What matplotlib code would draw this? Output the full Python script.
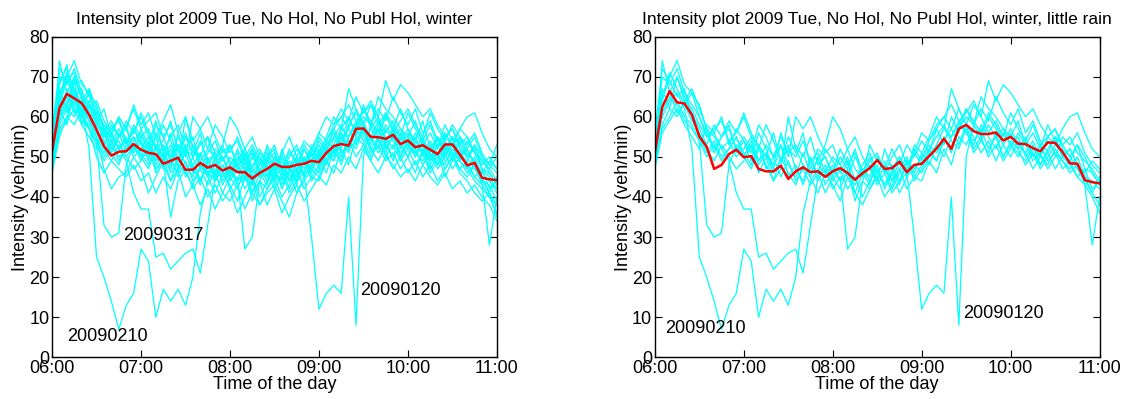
import matplotlib
matplotlib.use("Agg")
import matplotlib.pyplot as plt

plt.rcParams['font.family'] = ['Liberation Sans', 'DejaVu Sans']

# time axis: minutes after 06:00, 5-minute samples
minutes = list(range(0, 301, 5))
tick_minutes = [0, 60, 120, 180, 240, 300]
tick_labels = ["06:00", "07:00", "08:00", "09:00", "10:00", "11:00"]
y_ticks = [0, 10, 20, 30, 40, 50, 60, 70, 80]

# individual days (veh/min), 06:00 .. 11:00
d20090106 = [52, 70, 68, 72, 66, 63, 60, 55, 57, 59, 54, 56,
             60, 55, 53, 50, 56, 49, 52, 50, 54, 49, 51, 46,
             50, 48, 52, 47, 45, 49, 51, 46, 50, 53, 48, 51,
             56, 54, 58, 60, 57, 62, 58, 63, 60, 56, 59, 55,
             61, 57, 54, 58, 53, 55, 57, 52, 50, 53, 47, 46,
             43]
d20090113 = [47, 58, 62, 60, 64, 67, 62, 57, 52, 55, 58, 51,
             54, 49, 56, 52, 47, 53, 45, 48, 43, 50, 44, 47,
             42, 45, 27, 30, 44, 42, 46, 49, 44, 47, 50, 45,
             48, 52, 49, 55, 51, 57, 60, 58, 62, 59, 65, 61,
             58, 62, 56, 59, 54, 51, 55, 50, 52, 48, 45, 41,
             38]
d20090120 = [50, 61, 65, 63, 59, 57, 54, 50, 53, 49, 52, 55,
             51, 48, 53, 47, 50, 45, 49, 44, 47, 43, 46, 41,
             45, 42, 47, 39, 44, 48, 43, 46, 41, 44, 46, 30,
             12, 16, 18, 16, 40, 8, 50, 58, 55, 60, 57, 53,
             56, 52, 55, 50, 53, 49, 51, 47, 49, 45, 43, 40,
             36]
d20090127 = [55, 66, 70, 68, 69, 65, 61, 58, 54, 57, 53, 58,
             55, 57, 52, 54, 59, 51, 55, 53, 49, 52, 50, 53,
             48, 51, 46, 50, 52, 48, 45, 50, 47, 52, 49, 51,
             47, 53, 56, 52, 58, 61, 57, 55, 59, 54, 57, 52,
             55, 51, 54, 49, 52, 56, 53, 55, 50, 52, 49, 47,
             50]
d20090203 = [48, 74, 66, 61, 63, 59, 56, 52, 49, 53, 50, 47,
             49, 53, 46, 50, 44, 47, 60, 52, 48, 45, 50, 43,
             47, 44, 49, 41, 46, 50, 44, 52, 47, 43, 49, 46,
             51, 48, 53, 50, 55, 58, 62, 59, 56, 61, 58, 54,
             57, 53, 51, 54, 50, 48, 52, 49, 46, 48, 43, 28,
             40]
d20090210 = [50, 60, 64, 66, 62, 52, 25, 20, 14, 7, 13, 16,
             27, 24, 10, 17, 14, 17, 13, 20, 36, 44, 47, 45,
             48, 44, 46, 43, 47, 45, 50, 46, 48, 44, 49, 47,
             50, 53, 51, 55, 52, 58, 56, 54, 57, 52, 55, 50,
             53, 51, 49, 52, 50, 54, 51, 49, 47, 50, 45, 44,
             42]
d20090217 = [46, 59, 63, 67, 61, 64, 58, 56, 59, 55, 57, 62,
             57, 59, 61, 55, 58, 52, 56, 50, 53, 55, 51, 49,
             52, 54, 49, 52, 48, 50, 53, 47, 51, 49, 45, 48,
             50, 46, 52, 55, 53, 56, 59, 54, 57, 52, 55, 53,
             50, 54, 52, 49, 55, 51, 53, 57, 55, 51, 48, 50,
             47]
d20090224 = [53, 64, 70, 74, 68, 66, 63, 57, 55, 52, 54, 50,
             52, 55, 49, 51, 48, 56, 50, 60, 57, 60, 55, 51,
             53, 48, 45, 50, 47, 44, 48, 42, 46, 50, 47, 52,
             49, 54, 57, 60, 63, 59, 61, 64, 60, 69, 64, 68,
             66, 63, 60, 62, 58, 55, 57, 53, 55, 51, 49, 47,
             44]
d20090303 = [48, 63, 66, 70, 64, 62, 58, 55, 56, 52, 49, 41,
             37, 37, 25, 26, 22, 24, 26, 27, 21, 33, 45, 48,
             44, 47, 42, 45, 40, 44, 47, 43, 46, 41, 45, 48,
             46, 50, 53, 57, 55, 59, 56, 53, 58, 55, 52, 56,
             53, 50, 54, 51, 48, 52, 55, 53, 50, 47, 44, 41,
             45]
d20090310 = [49, 57, 60, 64, 60, 58, 54, 33, 30, 31, 48, 53,
             50, 47, 52, 48, 44, 50, 46, 43, 48, 45, 41, 46,
             43, 39, 45, 41, 38, 42, 45, 40, 43, 47, 42, 45,
             44, 49, 46, 52, 48, 55, 53, 57, 54, 51, 56, 50,
             54, 52, 48, 51, 47, 50, 53, 51, 49, 53, 50, 46,
             43]
d20090317 = [51, 60, 67, 64, 62, 59, 55, 47, 42, 45, 46, 50,
             47, 41, 45, 49, 35, 44, 47, 42, 45, 40, 43, 39,
             42, 36, 40, 44, 38, 41, 43, 39, 35, 41, 44, 47,
             45, 49, 52, 48, 54, 50, 53, 49, 55, 51, 47, 50,
             46, 49, 45, 48, 44, 47, 50, 46, 44, 41, 39, 41,
             35]
d20091201 = [54, 67, 62, 70, 65, 61, 57, 53, 58, 55, 59, 56,
             61, 56, 52, 58, 54, 49, 55, 51, 56, 47, 52, 50,
             46, 52, 48, 51, 45, 53, 49, 47, 52, 48, 53, 50,
             54, 51, 57, 53, 60, 56, 62, 58, 65, 62, 60, 57,
             55, 59, 53, 56, 52, 58, 54, 50, 52, 48, 46, 49,
             47]
d20091208 = [56, 72, 69, 65, 67, 60, 55, 51, 54, 50, 52, 55,
             50, 54, 48, 51, 46, 49, 53, 47, 44, 49, 46, 52,
             49, 46, 50, 44, 48, 51, 46, 43, 47, 50, 45, 53,
             51, 55, 60, 57, 67, 62, 58, 52, 55, 50, 53, 49,
             52, 56, 53, 49, 51, 47, 50, 55, 53, 56, 51, 48,
             46]
d20091215 = [50, 64, 61, 66, 58, 63, 59, 54, 51, 48, 53, 57,
             53, 50, 55, 49, 52, 47, 51, 46, 49, 45, 48, 44,
             47, 43, 45, 48, 50, 46, 42, 45, 48, 44, 50, 47,
             52, 48, 55, 51, 53, 57, 54, 50, 53, 49, 51, 47,
             50, 46, 52, 48, 51, 45, 49, 52, 47, 44, 42, 40,
             38]
d20091222 = [47, 56, 59, 62, 58, 55, 52, 58, 56, 60, 53, 57,
             54, 51, 58, 55, 50, 53, 48, 45, 51, 46, 49, 53,
             60, 57, 52, 55, 50, 47, 44, 48, 42, 46, 49, 44,
             47, 51, 49, 54, 57, 53, 58, 55, 51, 54, 49, 53,
             50, 54, 51, 47, 50, 55, 53, 57, 60, 61, 56, 52,
             50]
d20091229 = [53, 68, 73, 61, 62, 60, 61, 57, 53, 56, 51, 54,
             56, 52, 50, 53, 49, 46, 52, 48, 51, 46, 44, 48,
             45, 49, 52, 46, 49, 45, 47, 51, 44, 48, 52, 49,
             53, 49, 51, 56, 52, 54, 57, 55, 52, 57, 54, 51,
             54, 50, 53, 51, 55, 52, 49, 54, 51, 49, 46, 44,
             41]
d20091117 = [49, 62, 58, 69, 60, 57, 53, 49, 52, 54, 50, 53,
             49, 52, 47, 50, 53, 48, 46, 50, 44, 48, 45, 50,
             46, 48, 44, 47, 51, 49, 46, 50, 47, 45, 49, 52,
             50, 54, 52, 49, 55, 58, 55, 52, 49, 53, 50, 55,
             52, 48, 51, 46, 49, 53, 50, 47, 45, 48, 44, 43,
             39]
d20091124 = [52, 65, 71, 67, 63, 66, 60, 56, 51, 55, 57, 52,
             55, 52, 49, 53, 50, 55, 51, 53, 50, 55, 48, 50,
             45, 50, 47, 52, 46, 43, 50, 47, 44, 49, 46, 51,
             48, 52, 55, 58, 54, 52, 57, 51, 54, 58, 55, 57,
             53, 55, 50, 53, 48, 51, 47, 50, 48, 45, 47, 42,
             44]
d20091110 = [57, 69, 72, 66, 60, 67, 58, 62, 55, 60, 57, 63,
             58, 61, 55, 59, 63, 56, 60, 54, 57, 52, 58, 55,
             51, 55, 50, 53, 49, 52, 47, 51, 55, 50, 54, 52,
             56, 60, 58, 62, 59, 65, 61, 63, 58, 61, 56, 59,
             62, 58, 55, 61, 57, 54, 58, 55, 52, 55, 50, 48,
             53]
d20091103 = [46, 55, 60, 58, 62, 57, 50, 46, 49, 47, 45, 48,
             44, 46, 41, 45, 42, 47, 40, 43, 38, 42, 37, 41,
             39, 43, 37, 41, 44, 38, 42, 36, 40, 43, 39, 42,
             45, 43, 48, 46, 50, 47, 52, 49, 46, 50, 48, 45,
             47, 44, 48, 45, 43, 46, 42, 44, 41, 43, 40, 38,
             34]
d20091027 = [51, 63, 69, 71, 65, 62, 64, 59, 56, 52, 55, 51,
             57, 53, 59, 51, 55, 58, 52, 55, 47, 51, 54, 49,
             53, 47, 51, 45, 48, 50, 52, 44, 49, 46, 52, 48,
             55, 52, 50, 57, 60, 55, 63, 57, 60, 53, 57, 62,
             57, 54, 59, 52, 55, 50, 53, 49, 54, 51, 47, 45,
             42]

days_winter = [d20090106, d20090113, d20090120, d20090127, d20090203,
               d20090210, d20090217, d20090224, d20090303, d20090310,
               d20090317, d20091201, d20091208, d20091215, d20091222,
               d20091229, d20091117, d20091124, d20091110, d20091103,
               d20091027]
days_little_rain = [d20090106, d20090113, d20090120, d20090203,
                    d20090210, d20090224, d20090303, d20090310,
                    d20091201, d20091208, d20091222, d20091124]

# mean profiles (red)
mean_winter = [51.4, 62.2, 65.7, 64.6, 63.4, 60.5, 56.8, 52.7, 50.3, 51.3, 51.4, 53.2,
               51.8, 51.0, 50.7, 48.3, 49.0, 49.8, 46.8, 46.8, 48.5, 47.3, 48.0, 46.6,
               47.4, 46.2, 46.2, 44.6, 46.0, 47.0, 48.3, 47.5, 47.5, 48.0, 48.3, 49.0,
               48.7, 51.0, 52.7, 53.2, 52.8, 57.0, 57.1, 55.0, 54.9, 54.5, 55.5, 53.2,
               54.1, 52.4, 52.9, 51.8, 50.7, 53.1, 53.1, 50.6, 47.9, 48.5, 44.8, 44.4,
               44.2]
mean_rain = [51.0, 62.4, 66.4, 63.6, 63.3, 60.5, 55.1, 52.5, 47.0, 48.0, 50.7, 51.8,
             49.9, 50.2, 47.0, 46.4, 46.4, 47.8, 44.5, 46.4, 47.4, 46.2, 46.4, 45.0,
             46.4, 47.2, 46.0, 44.3, 45.9, 47.2, 49.2, 47.0, 47.2, 48.8, 46.2, 48.0,
             48.3, 50.2, 52.1, 54.5, 52.0, 57.0, 58.0, 56.4, 55.7, 55.7, 56.1, 54.1,
             55.0, 53.3, 53.2, 52.2, 51.4, 53.6, 53.5, 51.2, 48.4, 48.3, 44.2, 43.7,
             43.4]

titles = ["Intensity plot 2009 Tue, No Hol, No Publ Hol, winter",
          "Intensity plot 2009 Tue, No Hol, No Publ Hol, winter, little rain"]
notes_winter = [("20090317", 48, 30.5), ("20090210", 10, 5.2), ("20090120", 208, 16.7)]
notes_rain = [("20090210", 7, 7.2), ("20090120", 208, 11.0)]

fig = plt.figure(figsize=(11.29, 3.99), dpi=100)
ax1 = fig.add_axes([0.0461, 0.1043, 0.394, 0.804])
ax2 = fig.add_axes([0.580, 0.1043, 0.394, 0.804])

for ax, days, mean, title, notes in [(ax1, days_winter, mean_winter, titles[0], notes_winter),
                                     (ax2, days_little_rain, mean_rain, titles[1], notes_rain)]:
    for d in days:
        ax.plot(minutes, d, color='#00FFFF', lw=0.9)
    ax.plot(minutes, mean, color='#FF0000', lw=1.8)
    for txt, xm, yv in notes:
        ax.text(xm, yv, txt, fontsize=13, ha='left', va='center')
    ax.set_xlim(0, 300)
    ax.set_ylim(0, 80)
    ax.set_xticks(tick_minutes)
    ax.set_xticklabels(tick_labels)
    ax.set_yticks(y_ticks)
    ax.tick_params(direction='in', top=True, right=True, labelsize=13, length=5, pad=2)
    ax.set_xlabel("Time of the day", fontsize=13, labelpad=-1)
    ax.set_ylabel("Intensity (veh/min)", fontsize=13, labelpad=0)
    ax.set_title(title, fontsize=12.5, pad=9)
    for s in ax.spines.values():
        s.set_linewidth(1.0)

fig.savefig("out.png", dpi=100)
